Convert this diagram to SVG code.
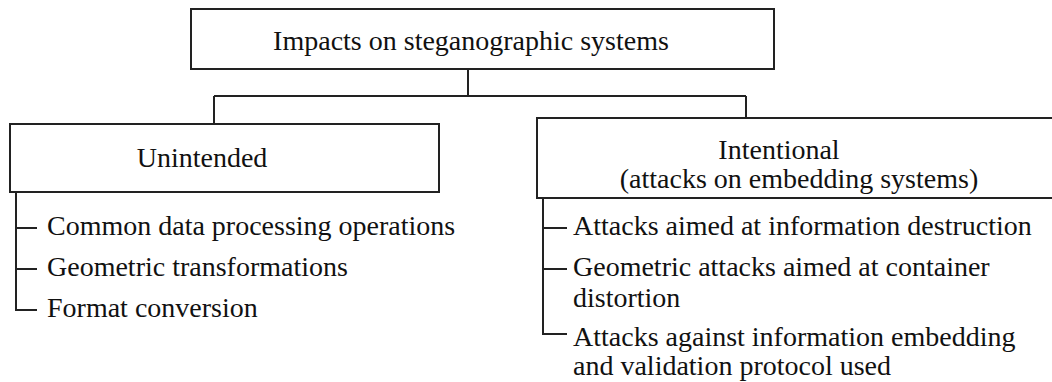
<svg xmlns="http://www.w3.org/2000/svg" width="1052" height="382" viewBox="0 0 1052 382">
<style>
.box{fill:#fff;stroke:#222;stroke-width:2}
.ln{fill:none;stroke:#222;stroke-width:2}
text{font-family:"Liberation Serif","Times New Roman",serif;font-size:28px;fill:#111}
.c{text-anchor:middle}
</style>
<rect width="1052" height="382" fill="#fff"/>
<g id="connectors">
<path class="ln" d="M468,69 V96 M214,96 H746 M214,96 V124 M746,96 V118"/>
<path class="ln" d="M16,192 V310 H37 M16,228 H37 M16,269 H37"/>
<path class="ln" d="M543,198 V334 H567 M543,228 H567 M543,269 H567"/>
</g>
<g id="root">
<rect class="box" x="191" y="9" width="583" height="60"/>
<text x="471" y="50" class="c">Impacts on steganographic systems</text>
</g>
<g id="unintended">
<rect class="box" x="10" y="124" width="429" height="68"/>
<text x="202" y="167" class="c">Unintended</text>
</g>
<g id="intentional">
<rect class="box" x="537" y="118" width="530" height="80"/>
<text x="779" y="159" class="c">Intentional</text>
<text x="799" y="188" class="c">(attacks on embedding systems)</text>
</g>
<g id="u1"><text x="47" y="235">Common data processing operations</text></g>
<g id="u2"><text x="47" y="276">Geometric transformations</text></g>
<g id="u3"><text x="47" y="317">Format conversion</text></g>
<g id="i1"><text x="573" y="235">Attacks aimed at information destruction</text></g>
<g id="i2"><text x="573" y="276">Geometric attacks aimed at container</text><text x="573" y="307">distortion</text></g>
<g id="i3"><text x="573" y="346">Attacks against information embedding</text><text x="573" y="375">and validation protocol used</text></g>
</svg>
